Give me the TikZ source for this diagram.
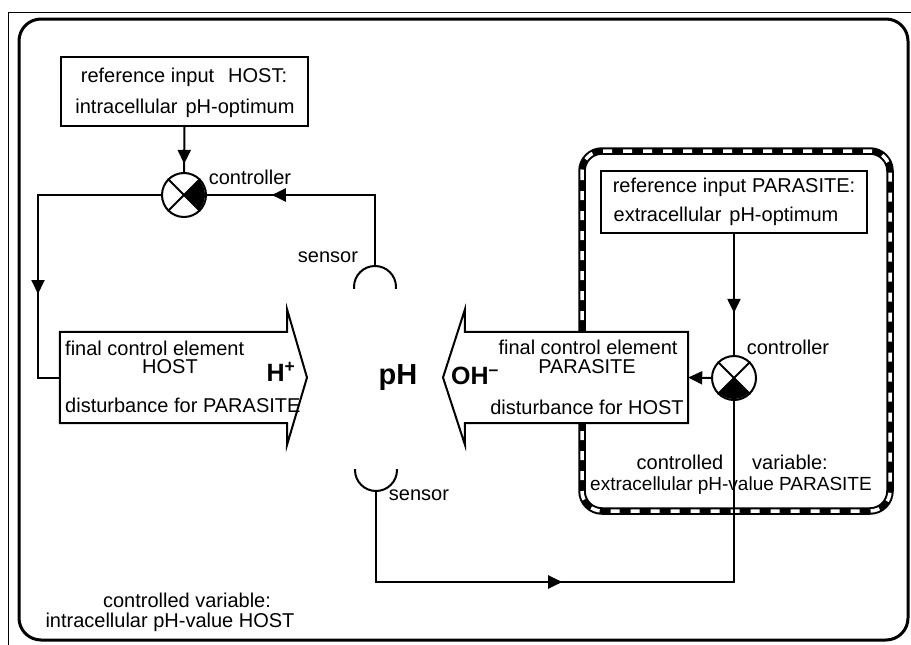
\documentclass[tikz,border=0pt]{standalone}
\usepackage{fontspec}
\setmainfont{Liberation Sans}
\usetikzlibrary{arrows.meta,decorations.markings}
\begin{document}
\begin{tikzpicture}[x=1pt,y=-1pt,
  lbl/.style={inner sep=0pt, font=\fontsize{20}{24}\selectfont},
  lblsm/.style={inner sep=0pt, font=\fontsize{19}{23}\selectfont},
  big/.style={inner sep=0pt, font=\fontsize{29}{33}\selectfont\bfseries},
  ion/.style={inner sep=0pt, font=\fontsize{25}{30}\selectfont\bfseries},
  conn/.style={line width=2pt},
  refbox/.style={draw, line width=1.8pt, inner sep=0pt},
  ctrl/.style={circle, draw, line width=2pt, minimum size=44pt, inner sep=0pt},
  sens/.style={circle, minimum size=44pt, inner sep=0pt},
  body/.style={inner sep=0pt, minimum height=91pt},
  bigarrow/.style={line width=2pt, fill=white, line join=miter},
  midarrow/.style={postaction={decorate, decoration={markings,
     mark=at position #1 with {\arrow{Triangle[length=14pt,width=13pt]}}}}},
]
\useasboundingbox (0,0) rectangle (911,645);
% scan edges
\draw[line width=0.8pt] (8,12) -- (911,12);
\draw[line width=0.8pt] (8,12) -- (8,645);
% outer frame
\draw[line width=3pt, rounded corners=22pt] (19,19) rectangle (908,640);

% parasite dashed frame
\draw[line width=7.5pt, rounded corners=20pt] (582,151) rectangle (890,511);
\draw[white, line width=3.5pt, rounded corners=20pt, dash pattern=on 9pt off 11pt] (582,151) rectangle (890,511);

% reference boxes
\node[refbox, minimum width=247pt, minimum height=69pt] (r1) at (184.5,91.5) {};
\node[lbl] (t1) at (184,77) {reference input\hspace{0.7em}HOST:};
\node[lbl] (t2) at (185,108) {intracellular\hspace{0.4em}pH-optimum};

\node[refbox, fill=white, minimum width=266pt, minimum height=62pt] (r2) at (734,202) {};
\node[lbl] (t3) at (734,187) {reference input\hspace{0.3em}PARASITE:};
\node[lbl] (t4) at (726,216) {extracellular\hspace{0.4em}pH-optimum};

% controllers
\node[ctrl] (c1) at (184,195) {};
\begin{scope}
  \clip (c1.center) circle[radius=21pt];
  \fill (c1.center) -- ++(30,-30) -- ++(0,60) -- cycle;
\end{scope}
\draw[conn] (c1.45) -- (c1.225);
\draw[conn] (c1.135) -- (c1.-45);
\node[lbl] (l1) at (250,177) {controller};

\node[ctrl] (c2) at (734,378) {};
\begin{scope}
  \clip (c2.center) circle[radius=21pt];
  \fill (c2.center) -- ++(-30,30) -- ++(60,0) -- cycle;
\end{scope}
\draw[conn] (c2.45) -- (c2.225);
\draw[conn] (c2.135) -- (c2.-45);
\node[lbl] (l2) at (788,347) {controller};

% sensors
\node[sens] (s1) at (375,287) {};
\begin{scope}
  \clip (345,250) rectangle (405,288);
  \draw[conn] (s1.center) circle[radius=21pt];
\end{scope}
\node[lbl] (l3) at (328,257) {sensor};

\node[sens] (s2) at (376,470) {};
\begin{scope}
  \clip (345,469) rectangle (405,500);
  \draw[conn] (s2.center) circle[radius=21pt];
\end{scope}
\node[lbl] (l4) at (419,495) {sensor};

% pH
\node[big] (ph) at (398,378) {pH};

% host big arrow
\node[body, minimum width=227pt] (hb) at (173.5,377.5) {};
\draw[bigarrow] (hb.north west) -- (hb.north east) -- ++(0,-22) -- (307,377.5)
   -- (287,445) -- (hb.south east) -- (hb.south west) -- cycle;
\node[lbl, anchor=west] (h1) at (65,348) {final control element};
\node[lbl] (h2) at (170,367) {HOST};
\node[lbl, anchor=west] (h3) at (65,405) {disturbance for PARASITE};
\node[ion] (hp) at (281,372) {H\textsuperscript{+}};

% parasite big arrow
\node[body, minimum width=223pt] (pb) at (576.5,377.5) {};
\draw[bigarrow] (pb.north east) -- (pb.north west) -- ++(0,-22) -- (443,377.5)
   -- (465,445) -- (pb.south west) -- (pb.south east) -- cycle;
\node[lbl] (p1) at (588,347) {final control element};
\node[lbl] (p2) at (587,367) {PARASITE};
\node[lbl] (p3) at (587,407) {disturbance for HOST};
\node[ion] (om) at (475,376) {OH\textsuperscript{–}};

% controlled variable labels
\node[lbl] (v1) at (680,462) {controlled};
\node[lbl] (v2) at (790,462) {variable:};
\node[lblsm] (v3) at (731,486) {extracellular pH-value PARASITE};
\node[lbl] (v4) at (187,600) {controlled variable:};
\node[lbl] (v5) at (170,622) {intracellular pH-value HOST};

% connectors
\coordinate (k1) at (38,195);
\coordinate (b1) at (376,582);
\coordinate (b2) at (734,582);
\draw[conn, midarrow=37pt] (r1.south) -- (c1.north);
\draw[conn, midarrow=173pt] (s1.north) |- (c1.east);
\draw[conn, midarrow=222pt] (c1.west) -- (k1) |- (hb.west);
\draw[conn, midarrow=79pt] (r2.south) -- (c2.north);
\draw[conn, -{Triangle[length=14pt,width=13pt]}] (c2.west) -- (pb.east);
\draw[conn, midarrow=276pt] (s2.south) -- (b1) -- (b2) -- (c2.south);
\end{tikzpicture}
\end{document}
